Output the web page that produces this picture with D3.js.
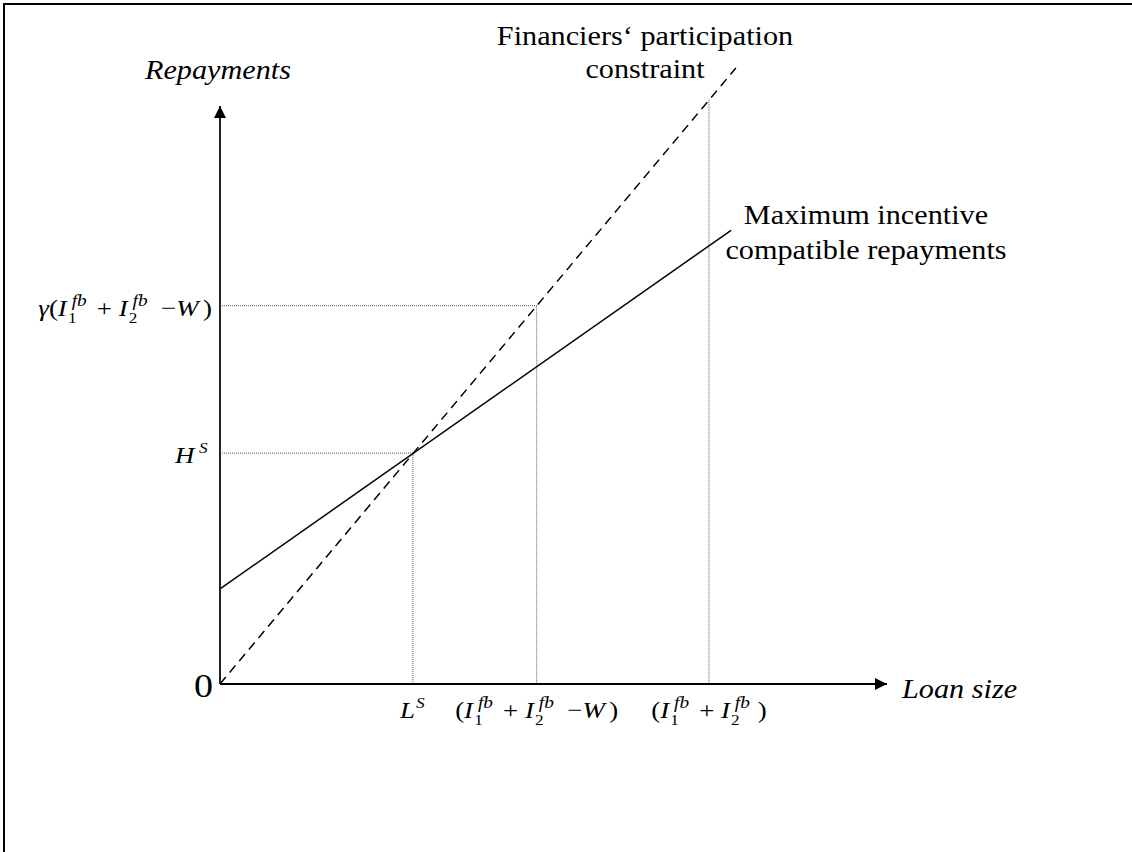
<!DOCTYPE html>
<html>
<head>
<meta charset="utf-8">
<script src="https://cdn.jsdelivr.net/npm/d3@7"></script>
<style>
  body { margin: 0; background: #fff; }
  text { font-family: "Liberation Serif", "Times New Roman", serif; fill: #000; }
</style>
</head>
<body>
<div id="chart"></div>
<script>
// ---- data (abstract units) ----
var participationLine = [[0, 0], [10.75, 12.83]];      // dashed
var incentiveLine = [[0, 1.98], [10.65, 9.45]];        // solid
var xKeys = [4.02, 6.6, 10.19];                        // L^S, (I1+I2-W), (I1+I2)
var xKeyTops = [4.81, 7.88, 12.17];                    // where the dotted verticals start
var yKeys = [4.81, 7.88];                              // H^S, gamma(...)
var yKeyRights = [4.02, 6.6];                          // where the dotted horizontals end

var W = 1132, H = 852;
var SX = 1.12; // text in the picture is a bit wider than tall

var svg = d3.select("#chart").append("svg")
    .attr("width", W)
    .attr("height", H);

// frame (only top and left edges visible)
svg.append("path")
    .attr("d", "M" + W + ",4H4V" + H)
    .attr("fill", "none")
    .attr("stroke", "#000")
    .attr("stroke-width", 2);

var x = d3.scaleLinear().domain([0, 13.9]).range([220, 887]);
var y = d3.scaleLinear().domain([0, 12.04]).range([684, 106]);

// arrow heads
var defs = svg.append("defs");
defs.append("marker")
    .attr("id", "arrow")
    .attr("viewBox", "0 0 12 12")
    .attr("refX", 12).attr("refY", 6)
    .attr("markerWidth", 12).attr("markerHeight", 12)
    .attr("markerUnits", "userSpaceOnUse")
    .attr("orient", "auto")
    .append("path")
    .attr("d", "M0,0L12,6L0,12Z")
    .attr("fill", "#000");

// dotted guides
var dotted = svg.append("g")
    .attr("stroke", "#555")
    .attr("stroke-width", 1)
    .attr("stroke-dasharray", "1,1")
    .attr("fill", "none");

dotted.selectAll("line.v")
    .data(xKeys)
    .enter().append("line")
    .attr("class", "v")
    .attr("x1", function (d) { return x(d); })
    .attr("x2", function (d) { return x(d); })
    .attr("y1", function (d, i) { return y(xKeyTops[i]); })
    .attr("y2", y(0));

dotted.selectAll("line.h")
    .data(yKeys)
    .enter().append("line")
    .attr("class", "h")
    .attr("x1", x(0))
    .attr("x2", function (d, i) { return x(yKeyRights[i]); })
    .attr("y1", function (d) { return y(d); })
    .attr("y2", function (d) { return y(d); });

// the two lines
var line = d3.line()
    .x(function (d) { return x(d[0]); })
    .y(function (d) { return y(d[1]); });

svg.append("path")
    .datum(participationLine)
    .attr("d", line)
    .attr("fill", "none")
    .attr("stroke", "#000")
    .attr("stroke-width", 1.5)
    .attr("stroke-dasharray", "9,6");

svg.append("path")
    .datum(incentiveLine)
    .attr("d", line)
    .attr("fill", "none")
    .attr("stroke", "#000")
    .attr("stroke-width", 1.5);

// axes
svg.append("line")
    .attr("x1", x(0)).attr("y1", y(0))
    .attr("x2", x(13.9)).attr("y2", y(0))
    .attr("stroke", "#000").attr("stroke-width", 2)
    .attr("marker-end", "url(#arrow)");

svg.append("line")
    .attr("x1", x(0)).attr("y1", y(0))
    .attr("x2", x(0)).attr("y2", y(12.04))
    .attr("stroke", "#222").attr("stroke-width", 2)
    .attr("marker-end", "url(#arrow)");

// plain text helper: lines centred on cx, stretched a little
function plainText(lines, cx, y0, size, italic, lead, anchor) {
    var g = svg.append("g")
        .attr("transform", "translate(" + cx + "," + y0 + ") scale(" + SX + ",1)");
    lines.forEach(function (s, i) {
        g.append("text")
            .attr("y", i * (lead || 0))
            .attr("text-anchor", anchor || "middle")
            .attr("font-size", size)
            .attr("font-style", italic ? "italic" : "normal")
            .text(s);
    });
}

// math helper: tokens laid out one after another, sub/sup stacked
function mathText(tokens, ax, ay, size, anchor) {
    var outer = svg.append("g")
        .attr("transform", "translate(" + ax + "," + ay + ") scale(" + SX + ",1)");
    var g = outer.append("g");
    var cx = 0;
    tokens.forEach(function (tk) {
        if (tk.gap) { cx += tk.gap; return; }
        if (tk.sub || tk.sup) {
            var w = 0;
            if (tk.sub) {
                var t1 = g.append("text").attr("x", cx).attr("y", size * 0.3)
                    .attr("font-size", size * 0.64).text(tk.sub);
                w = Math.max(w, t1.node().getComputedTextLength());
            }
            if (tk.sup) {
                var off = tk.sub ? size * 0.14 : 0;
                var t2 = g.append("text").attr("x", cx + off).attr("y", -size * 0.4)
                    .attr("font-size", size * (tk.sub ? 0.72 : 0.64))
                    .attr("font-style", "italic").text(tk.sup);
                w = Math.max(w, off + t2.node().getComputedTextLength());
            }
            cx += w + 1;
            return;
        }
        var t = g.append("text").attr("x", cx)
            .attr("font-size", size)
            .attr("font-style", tk.i ? "italic" : "normal")
            .text(tk.t);
        cx += t.node().getComputedTextLength();
    });
    var shift = anchor === "end" ? -cx : anchor === "middle" ? -cx / 2 : 0;
    g.attr("transform", "translate(" + shift + ",0)");
}

var I1 = [{ t: "I", i: true }, { gap: 1 }, { sub: "1", sup: "fb" }, { gap: 2 }];
var I2 = [{ t: "I", i: true }, { gap: 1 }, { sub: "2", sup: "fb" }, { gap: 2 }];
var sumW = [{ t: "(" }].concat(I1, [{ gap: 6 }, { t: "+" }, { gap: 6 }], I2,
    [{ gap: 9 }, { t: "\u2212" }, { t: "W", i: true }, { gap: 4 }, { t: ")" }]);
var sumI = [{ t: "(" }].concat(I1, [{ gap: 6 }, { t: "+" }, { gap: 6 }], I2, [{ gap: 4 }, { t: ")" }]);

var mathSize = 24;
var xLabels = [
    [{ t: "L", i: true }, { gap: 1 }, { sup: "S" }],
    sumW,
    sumI
];
var yLabels = [
    [{ t: "H", i: true }, { gap: 4 }, { sup: "S" }, { gap: 3 }],
    [{ t: "\u03B3", i: true }].concat(sumW)
];

xLabels.forEach(function (tk, i) {
    mathText(tk, x(xKeys[i]), y(0) + 34, mathSize, "middle");
});
yLabels.forEach(function (tk, i) {
    mathText(tk, x(0) - 8, y(yKeys[i]) + 10, mathSize, "end");
});

// axis titles and curve labels
plainText(["Repayments"], x(0) - 2, 79, 27, true);
plainText(["Loan size"], x(13.9) + 15, 698, 27, true, 0, "start");
plainText(["0"], x(0) - 7, 697, 34, false, 0, "end");
plainText(["Financiers\u2018 participation", "constraint"], 645, 45, 27, false, 33);
plainText(["Maximum incentive", "compatible repayments"], 866, 224, 27, false, 35);
</script>
</body>
</html>
